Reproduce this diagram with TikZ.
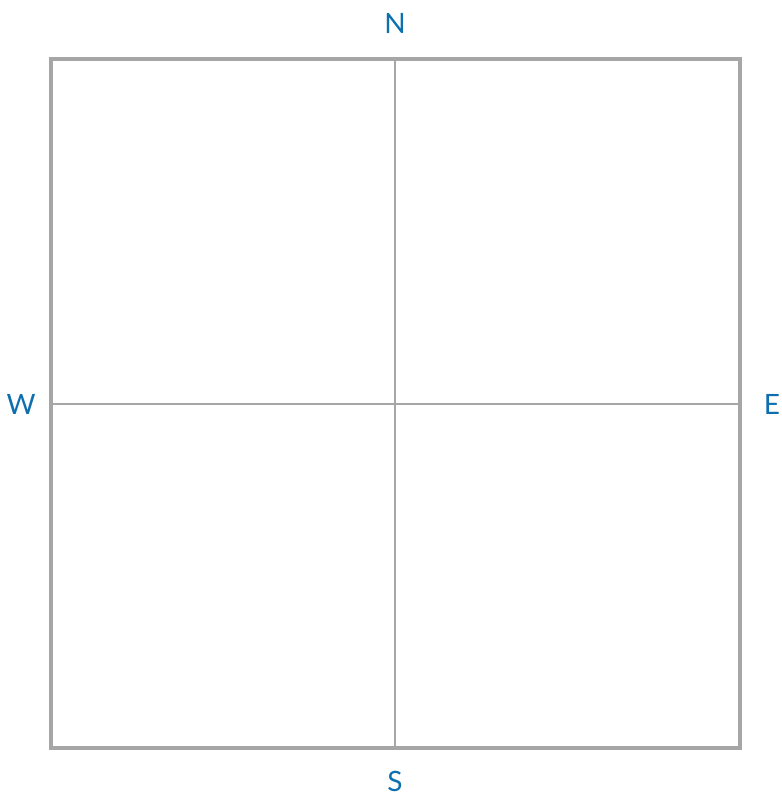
\documentclass[tikz,border=0pt]{standalone}
\usepackage{fontspec}
\setmainfont{Lato}
\usepackage{xcolor}
\usepackage{tikz}

\definecolor{compassblue}{HTML}{0E6FAE}
\definecolor{gridgray}{HTML}{A6A6A6}

\begin{document}
\begin{tikzpicture}[x=0.75pt, y=-0.75pt,
    dir/.style={text=compassblue, font=\fontsize{21}{25}\selectfont, inner sep=0pt}]
    \useasboundingbox (0,0) rectangle (782,794);

    % Frame
    \coordinate (nw) at (51,59);
    \coordinate (se) at (740,748);
    \draw[gridgray, line width=2.4pt] (nw) rectangle (se);

    % Cross
    \coordinate (top) at (395,59);
    \coordinate (bot) at (395,748);
    \coordinate (lft) at (51,404);
    \coordinate (rgt) at (740,404);
    \draw[gridgray, line width=1.7pt] (top) -- (bot);
    \draw[gridgray, line width=1.7pt] (lft) -- (rgt);

    % Labels
    \node[dir] (n) at (395,23) {N};
    \node[dir] (s) at (395,781) {S};
    \node[dir] (w) at (21,404) {W};
    \node[dir] (e) at (772,404) {E};
\end{tikzpicture}
\end{document}
